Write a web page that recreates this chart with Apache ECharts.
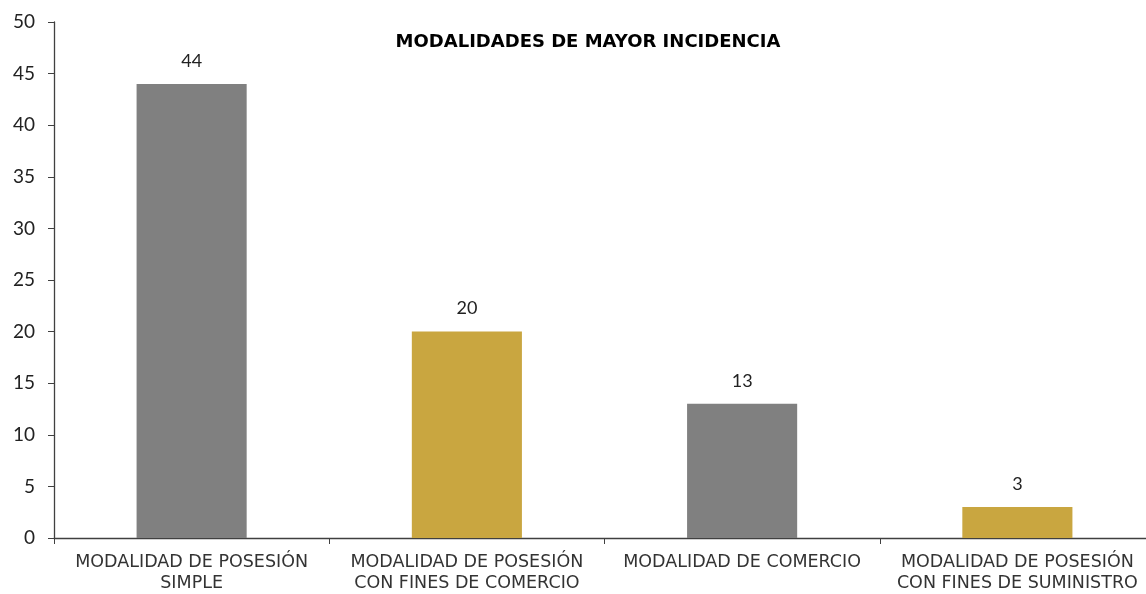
<!DOCTYPE html>
<html>
<head>
<meta charset="utf-8">
<script src="https://cdn.jsdelivr.net/npm/echarts@6/dist/echarts.min.js"></script>
<style>
  html, body { margin: 0; padding: 0; background: #fff; overflow: hidden; }
  /* a bit wider than the window: the last category runs past the right edge */
  #chart { width: 1155px; height: 594px; }
</style>
</head>
<body>
<div id="chart"></div>
<script>
const categories = [
  'MODALIDAD DE POSESIÓN\nSIMPLE',
  'MODALIDAD DE POSESIÓN\nCON FINES DE COMERCIO',
  'MODALIDAD DE COMERCIO',
  'MODALIDAD DE POSESIÓN\nCON FINES DE SUMINISTRO'
]
const values = [44, 20, 13, 3]
const barColors = ['#808080', '#C9A640', '#808080', '#C9A640']

const myChart = echarts.init(document.getElementById('chart'))
const option = {
  animation: false,
  textStyle: { fontFamily: 'DejaVu Sans' },
  title: {
    text: 'MODALIDADES DE MAYOR INCIDENCIA',
    left: 583,
    textAlign: 'center',
    top: 28,
    textStyle: { color: '#000', fontSize: 18, fontWeight: 'bold', fontFamily: 'DejaVu Sans' }
  },
  grid: { left: 54, right: 0, top: 22, bottom: 53, containLabel: false },
  xAxis: {
    type: 'category',
    data: categories,
    axisLine: { lineStyle: { color: '#404040', width: 1.3 } },
    axisTick: { show: true, alignWithLabel: false, length: 6, lineStyle: { color: '#404040' } },
    axisLabel: { color: '#333', fontSize: 17.5, lineHeight: 21, margin: 14, interval: 0 }
  },
  yAxis: {
    type: 'value',
    min: 0,
    max: 50,
    interval: 5,
    splitLine: { show: false },
    axisLine: { show: true, lineStyle: { color: '#404040', width: 1.3 } },
    axisTick: { show: true, inside: false, length: 6, lineStyle: { color: '#404040' } },
    axisLabel: { color: '#222', fontSize: 19, margin: 19, fontFamily: 'Lato' }
  },
  series: [
    {
      type: 'bar',
      data: values.map((v, i) => ({ value: v, itemStyle: { color: barColors[i] } })),
      barWidth: '40%',
      label: {
        show: true,
        position: 'top',
        distance: 14,
        color: '#222',
        fontSize: 18,
        fontFamily: 'Lato'
      }
    }
  ]
}
myChart.setOption(option)
</script>
</body>
</html>
